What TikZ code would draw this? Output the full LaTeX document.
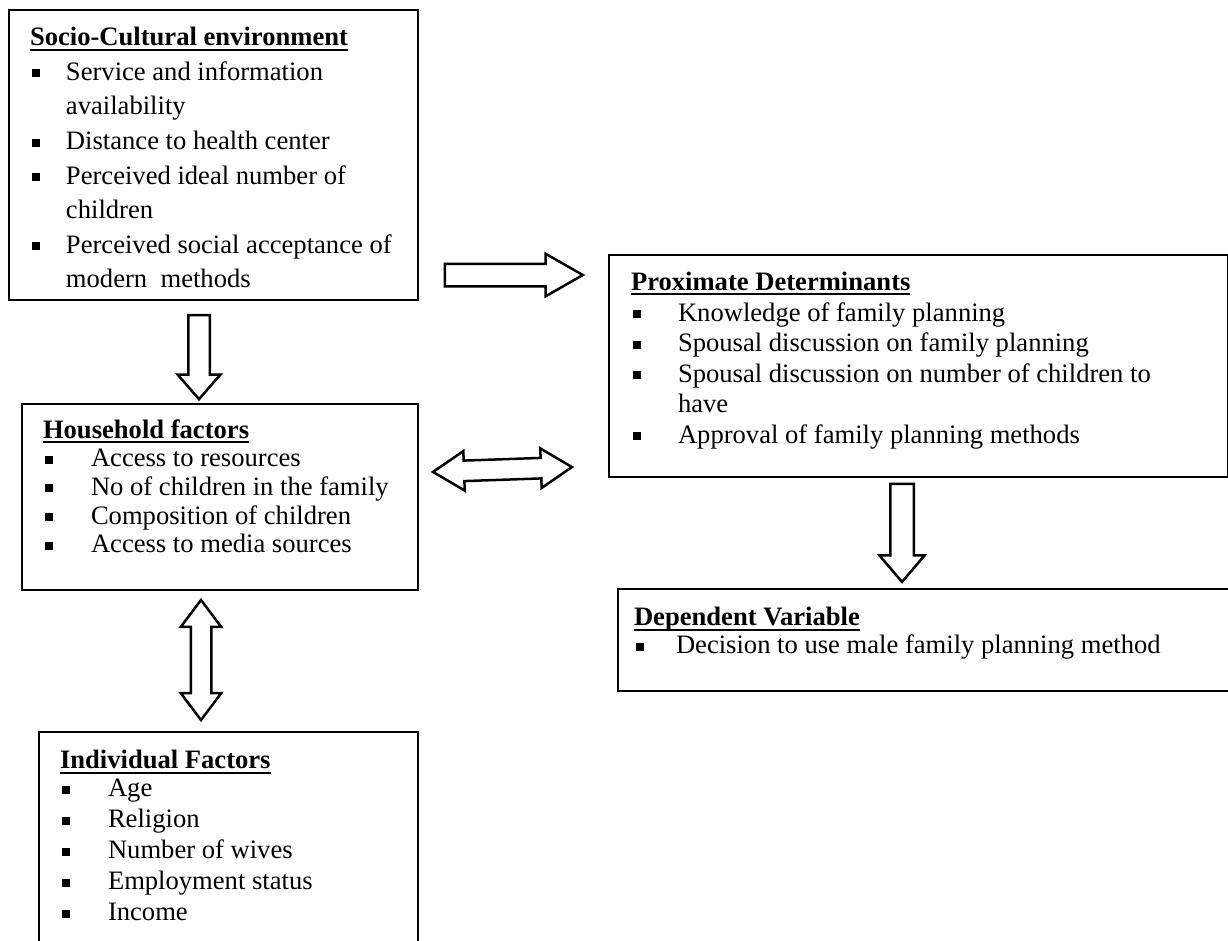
\documentclass[tikz,border=0pt]{standalone}
\usepackage{fontspec}
\setmainfont{Liberation Serif}
\usetikzlibrary{shapes.arrows}

\newlength{\bw}
\newlength{\hdw}
\newcommand{\hd}[1]{\settowidth{\hdw}{\textbf{#1}}%
  \strut\rlap{\rule[-5pt]{\hdw}{2pt}}\textbf{#1}\par}
\newcommand{\itm}{\par\hangindent=\bw\hangafter=1\noindent\makebox[\bw][l]{\hspace{2pt}\rule[3pt]{8pt}{8pt}}}
% width, height, top space, left space, item indent, line skip, text
\newcommand{\boxbody}[7]{\begin{minipage}[t][#2][t]{#1}%
  \fontsize{26.6pt}{#6}\selectfont\raggedright\leftskip=#4\relax
  \setlength{\bw}{#5}\parskip=0pt
  \vspace*{#3}#7\end{minipage}}

\begin{document}
\begin{tikzpicture}[
  x=1pt, y=-1pt,
  box/.style={draw, line width=2pt, anchor=north west, inner sep=0pt},
  blk/.style={draw, line width=2.5pt, inner xsep=0pt, text height=0pt, text depth=0pt}
]
\useasboundingbox (0,0) rectangle (1228,940);

\node[box] (soc) at (8,9) {\boxbody{409pt}{290pt}{11.5pt}{21pt}{36pt}{34.6pt}{%
  \hd{Socio-Cultural environment}
  \itm Service and information\newline availability
  \itm Distance to health center
  \itm Perceived ideal number of\newline children
  \itm Perceived social acceptance of\newline modern\ \ methods}};
\node[box] (prox) at (608,254) {\boxbody{619pt}{222pt}{14pt}{22pt}{47pt}{30.6pt}{%
  \hd{Proximate Determinants}
  \itm Knowledge of family planning
  \itm Spousal discussion on family planning
  \itm Spousal discussion on number of children to\newline have
  \itm Approval of family planning methods}};
\node[box] (house) at (21,403) {\boxbody{396pt}{186pt}{14pt}{21pt}{48pt}{28.7pt}{%
  \hd{Household factors}
  \itm Access to resources
  \itm No of children in the family
  \itm Composition of children
  \itm Access to media sources}};
\node[box] (dep) at (617,588) {\boxbody{630pt}{102pt}{17pt}{16pt}{42pt}{28pt}{%
  \hd{Dependent Variable}
  \itm Decision to use male family planning method}};
\node[box] (ind) at (38,731) {\boxbody{379pt}{240pt}{15pt}{21pt}{48pt}{31pt}{%
  \hd{Individual Factors}\vspace{-3pt}
  \itm Age
  \itm Religion
  \itm Number of wives
  \itm Employment status
  \itm Income}};

% block arrows between the boxes
\node[blk, single arrow, minimum height=138pt, inner ysep=10pt,
  single arrow head extend=10pt, single arrow tip angle=59.5] (socprox) at (504,275) {};
\node[blk, single arrow, minimum height=84pt, inner ysep=9.5pt, rotate=-90,
  single arrow head extend=10.5pt, single arrow tip angle=82] (sochouse) at (199,351) {};
\node[blk, double arrow, minimum height=139pt, inner ysep=9pt, rotate=2,
  double arrow head extend=9.5pt, double arrow tip angle=65] (houseprox) at (502.5,469.5) {};
\node[blk, double arrow, minimum height=120pt, inner ysep=9pt, rotate=90,
  double arrow head extend=10pt, double arrow tip angle=74] (houseind) at (201,660) {};
\node[blk, single arrow, minimum height=98pt, inner ysep=10.5pt, rotate=-90,
  single arrow head extend=11pt, single arrow tip angle=81] (proxdep) at (902,526) {};
\end{tikzpicture}
\end{document}
